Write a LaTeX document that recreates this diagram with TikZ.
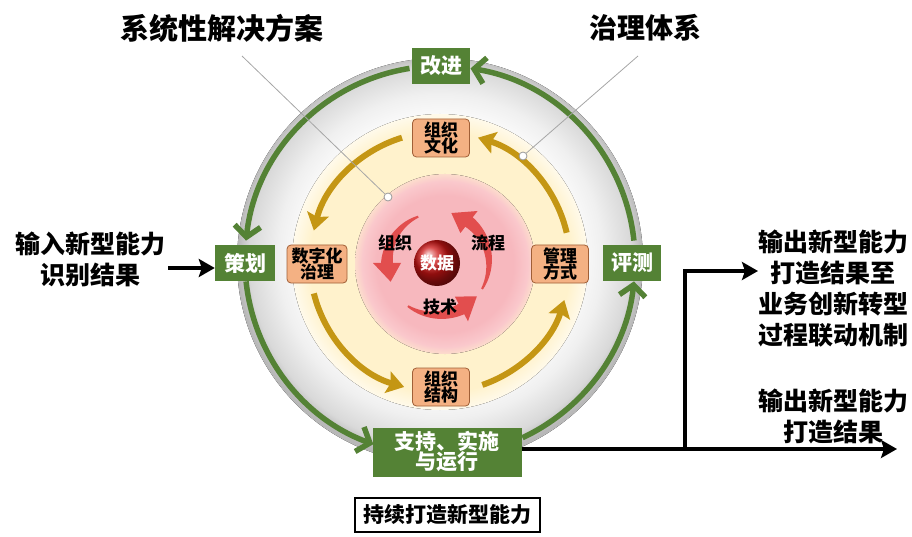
\documentclass[tikz,border=0pt]{standalone}
\usepackage{fontspec}
\setmainfont{Noto Sans CJK SC}
\usetikzlibrary{arrows.meta,calc}
\definecolor{gr}{RGB}{84,130,53}
\definecolor{gold}{RGB}{196,150,20}
\definecolor{org}{RGB}{244,177,131}
\definecolor{orgd}{RGB}{160,95,55}
\definecolor{cream}{RGB}{255,242,204}
\definecolor{pinkc}{RGB}{247,184,190}
\definecolor{pinke}{RGB}{250,200,204}
\definecolor{redarr}{RGB}{226,78,78}
\definecolor{ballred}{RGB}{205,20,20}
\pgfdeclareradialshading{sphere}{\pgfpoint{0bp}{1bp}}{color(0bp)=(white); color(16bp)=(white); color(20bp)=(black!6); color(23.5bp)=(black!15); color(25bp)=(black!28); color(50bp)=(black!28)}
\pgfdeclareradialshading{creamsh}{\pgfpoint{0bp}{0bp}}{color(0bp)=(cream); color(22bp)=(cream); color(25bp)=(cream!40!white); color(50bp)=(cream!40!white)}
\pgfdeclareradialshading{pinksh}{\pgfpoint{0bp}{0bp}}{color(0bp)=(pinkc); color(19bp)=(pinkc); color(23bp)=(pinke); color(25bp)=(pinke!50!cream); color(50bp)=(pinke!50!cream)}
\newcommand\redarrow[3]{%
  \fill[redarr] plot[domain=#2:#3, samples=24] ({437+(#1+1+5*(\x-#2)/(#3-#2))*cos(\x)}, {273+(#1+1+5*(\x-#2)/(#3-#2))*sin(\x)})
   -- ({437+(#1+14)*cos(#3)}, {273+(#1+14)*sin(#3)})
   -- ({437+#1*cos(#3+22)}, {273+#1*sin(#3+22)})
   -- ({437+(#1-14)*cos(#3)}, {273+(#1-14)*sin(#3)})
   -- plot[domain=#3:#2, samples=24] ({437+(#1-1-5*(\x-#2)/(#3-#2))*cos(\x)}, {273+(#1-1-5*(\x-#2)/(#3-#2))*sin(\x)})
   -- cycle;}
\tikzset{
  gbox/.style={fill=gr, text=white, font=\bfseries\fontsize{21}{23}\selectfont, inner sep=0pt, minimum height=36pt, minimum width=58pt, align=center},
  obox/.style={fill=org, draw=orgd, line width=0.8pt, rounded corners=4pt, font=\bfseries\fontsize{17}{19}\selectfont, minimum width=57pt, minimum height=38pt, inner sep=0pt, align=center},
  garc/.style={draw=gr, line width=5.5pt, -{Straight Barb[length=11pt,width=26pt]}},
  goldarc/.style={draw=gold, line width=6pt, -{Stealth[length=17pt,width=22pt,inset=3pt]}},
  barr/.style={draw=black, line width=4pt, -{Stealth[length=16pt,width=18pt,inset=3pt]}},
  bigtxt/.style={font=\bfseries\fontsize{25}{31}\selectfont, align=center, inner sep=0pt},
  title/.style={font=\bfseries\fontsize{28}{30}\selectfont, inner sep=0pt},
  inlbl/.style={font=\bfseries\fontsize{17}{19}\selectfont, inner sep=0pt},
  marker/.style={circle, draw=gray!80, fill=white, line width=0.8pt, minimum size=8pt, inner sep=0pt},
  ptr/.style={draw=gray!70, line width=0.8pt}
}
\begin{document}
\begin{tikzpicture}[x=1pt,y=1pt]
\useasboundingbox (0,0) rectangle (912,536);
\coordinate (C) at (440,275);
\coordinate (I) at (440,274);
% sphere and discs
\fill[shading=sphere] (C) circle (203pt);
\fill[shading=creamsh] (I) circle (148pt);
\fill[shading=pinksh] (445,272) circle (90pt);
% gold arcs
\draw[goldarc] ([shift={(107:130pt)}]I) arc[start angle=107, end angle=166, radius=130pt];
\draw[goldarc] ([shift={(194:130pt)}]I) arc[start angle=194, end angle=254, radius=130pt];
\draw[goldarc] ([shift={(289:130pt)}]I) arc[start angle=289, end angle=343, radius=130pt];
\draw[goldarc] ([shift={(13:130pt)}]I) arc[start angle=13, end angle=73, radius=130pt];
% orange nodes
\node[obox] (wh) at (441,398) {组织\\[-3pt]文化};
\node[obox, minimum width=60pt] (sz) at (317,272) {数字化\\[-3pt]治理};
\node[obox] (gl) at (560,272) {管理\\[-3pt]方式};
\node[obox] (jg) at (441,149) {组织\\[-3pt]结构};
% red arrows
\redarrow{50}{112}{180}
\redarrow{52}{-30}{52}
\redarrow{52}{236}{298}
\node[inlbl] (zz) at (395,293) {组织};
\node[inlbl] (lc) at (488,293) {流程};
\node[inlbl] (js) at (440,229) {技术};
\shade[ball color=ballred] (437,273) circle (23pt);
\node[inlbl, text=white] (sj) at (437,273) {数据};
% green arcs
\draw[garc] ([shift={(99:195pt)}]C) arc[start angle=99, end angle=174, radius=195pt];
\draw[garc] ([shift={(186:195pt)}]C) arc[start angle=186, end angle=250, radius=195pt];
\draw[garc] ([shift={(295:195pt)}]C) arc[start angle=295, end angle=354, radius=195pt];
\draw[garc] ([shift={(6:195pt)}]C) arc[start angle=6, end angle=81, radius=195pt];
% green nodes
\node[gbox] (gj) at (441,470) {改进};
\node[gbox, minimum width=60pt] (ch) at (245,273) {策划};
\node[gbox] (pc) at (632,273) {评测};
\node[gbox, minimum width=149pt, minimum height=49pt, font=\bfseries\fontsize{21}{24}\selectfont] (zc) at (447,84) {支持、实施\\[-4pt]与运行};
% titles and pointers
\node[title, font=\bfseries\fontsize{29}{31}\selectfont] (t1) at (222,508) {系统性解决方案};
\node[title] (t2) at (645,508) {治理体系};
\node[marker] (m1) at (388,339) {};
\node[marker] (m2) at (523,380) {};
\coordinate (p1) at (242,480);
\coordinate (p2) at (638,480);
\draw[ptr] (p1) -- (m1);
\draw[ptr] (p2) -- (m2);
% input
\node[bigtxt] (in) at (90,277) {输入新型能力\\识别结果};
\coordinate (ins) at (168,268);
\draw[barr] (ins) -- (ins -| ch.west);
% outputs
\coordinate (oend) at (897,87);
\coordinate (br) at (685,87);
\coordinate (o1end) at (758,265);
\draw[barr] (zc.east |- oend) -- (oend);
\draw[barr] (br) |- (o1end);
\node[bigtxt] (out1) at (833,247) {输出新型能力\\打造结果至\\业务创新转型\\过程联动机制};
\node[bigtxt] (out2) at (833,120) {输出新型能力\\打造结果};
% bottom box
\node[draw=black, line width=1.2pt, fill=white, font=\bfseries\fontsize{21}{23}\selectfont, minimum width=185pt, minimum height=34pt, inner sep=0pt] (cx) at (447.5,21) {持续打造新型能力};
\end{tikzpicture}
\end{document}
